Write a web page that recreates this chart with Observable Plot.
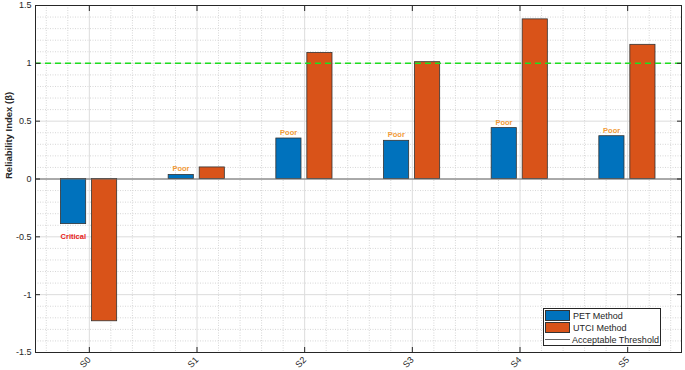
<!DOCTYPE html>
<html>
<head>
<meta charset="utf-8">
<script src="https://cdn.jsdelivr.net/npm/d3@7"></script>
<script src="https://cdn.jsdelivr.net/npm/@observablehq/plot@0.6"></script>
<style>
  body { margin: 0; background: #fff; }
  #wrap { position: relative; width: 685px; height: 370px; font-family: "Liberation Sans", Arial, sans-serif; }
  #legend { position: absolute; left: 543px; top: 308px; width: 118px; height: 38px; border: 1px solid #262626; background: #fff; font-size: 9px; color: #262626; box-sizing: border-box; }
  .row { position: absolute; left: 1px; height: 11px; display: flex; align-items: center; white-space: nowrap; }
  .sw { width: 23px; height: 9px; border: 1px solid #333; margin-right: 3px; }
  .ln { width: 25px; height: 0; border-top: 1px solid #666; margin-right: 2px; }
</style>
</head>
<body>
<div id="wrap"><div id="chart"></div>
<div id="legend">
  <div class="row" style="top:1px"><div class="sw" style="background:#0072BD"></div>PET Method</div>
  <div class="row" style="top:13px"><div class="sw" style="background:#D95319"></div>UTCI Method</div>
  <div class="row" style="top:25px"><div class="ln"></div>Acceptable Threshold</div>
</div>
</div>
<script>
const categories = ["S0", "S1", "S2", "S3", "S4", "S5"];
const petValues = [-0.39, 0.035, 0.35, 0.33, 0.44, 0.37];
const utciValues = [-1.23, 0.10, 1.09, 1.01, 1.38, 1.16];
const petLabels = ["Critical", "Poor", "Poor", "Poor", "Poor", "Poor"];
const threshold = 1;
const yTicks = [-1.5, -1, -0.5, 0, 0.5, 1, 1.5];
const yLabel = "Reliability Index (β)";

const pet = categories.map((c, i) => ({cat: c, i, value: petValues[i], label: petLabels[i]}));
const utci = categories.map((c, i) => ({cat: c, i, value: utciValues[i]}));
const xIdx = categories.map((c, i) => i);

const minorX = d3.range(-0.4, 5.5, 0.2).filter(v => Math.abs(v - Math.round(v)) > 1e-6);
const minorY = d3.range(-1.4, 1.5, 0.1).filter(v => Math.abs(v * 2 - Math.round(v * 2)) > 1e-6);

const chart = Plot.plot({
  width: 685,
  height: 370,
  marginLeft: 35,
  marginRight: 4,
  marginTop: 5,
  marginBottom: 18,
  x: {domain: [-0.5, 5.5]},
  y: {domain: [-1.5, 1.5]},
  style: {fontFamily: "'Liberation Sans', Arial, sans-serif", fontSize: "9px", color: "#262626", background: "white"},
  marks: [
    Plot.ruleX(minorX, {stroke: "#d6d6d6", strokeDasharray: "1,1.5"}),
    Plot.ruleY(minorY, {stroke: "#d6d6d6", strokeDasharray: "1,1.5"}),
    Plot.ruleX(xIdx, {stroke: "#dcdcdc"}),
    Plot.ruleY(yTicks, {stroke: "#dcdcdc"}),
    Plot.rectY(pet, {x1: d => d.i - 0.5, x2: d => d.i + 0.5, y1: 0, y2: "value", fill: "#0072BD", stroke: "#333", strokeWidth: 0.8, insetLeft: 25.5, insetRight: 57}),
    Plot.rectY(utci, {x1: d => d.i - 0.5, x2: d => d.i + 0.5, y1: 0, y2: "value", fill: "#D95319", stroke: "#333", strokeWidth: 0.8, insetLeft: 56.5, insetRight: 26}),
    Plot.ruleY([0], {stroke: "#666", strokeWidth: 1}),
    Plot.ruleY([threshold], {stroke: "#1ee01e", strokeWidth: 1.5, strokeDasharray: "6,4"}),
    Plot.text(pet.filter(d => d.value >= 0), {x: "i", y: "value", text: "label", dx: -16, dy: -6, fill: "#f29b38", fontWeight: "bold", fontSize: 7.5}),
    Plot.text(pet.filter(d => d.value < 0), {x: "i", y: "value", text: "label", dx: -16, dy: 12, fill: "#e62020", fontWeight: "bold", fontSize: 7.5}),
    Plot.frame({stroke: "#262626", strokeWidth: 1}),
    Plot.axisX(xIdx, {anchor: "bottom", tickSize: -5, tickFormat: () => "", label: null}),
    Plot.axisX(xIdx, {anchor: "top", tickSize: -5, tickFormat: () => "", label: null}),
    Plot.axisX(xIdx, {anchor: "bottom", tickSize: 0, tickPadding: 6, tickRotate: -45, tickFormat: i => categories[i], label: null}),
    Plot.axisY(yTicks, {anchor: "left", tickSize: -5, tickFormat: () => "", label: null}),
    Plot.axisY(yTicks, {anchor: "right", tickSize: -5, tickFormat: () => "", label: null}),
    Plot.axisY(yTicks, {anchor: "left", tickSize: 0, tickPadding: 4, tickFormat: d => String(d), label: null}),
    Plot.text([yLabel], {frameAnchor: "left", dx: -27, rotate: -90, fontWeight: "bold", fontSize: 9.5, fill: "#262626"})
  ]
});
document.getElementById("chart").appendChild(chart);
</script>
</body>
</html>
